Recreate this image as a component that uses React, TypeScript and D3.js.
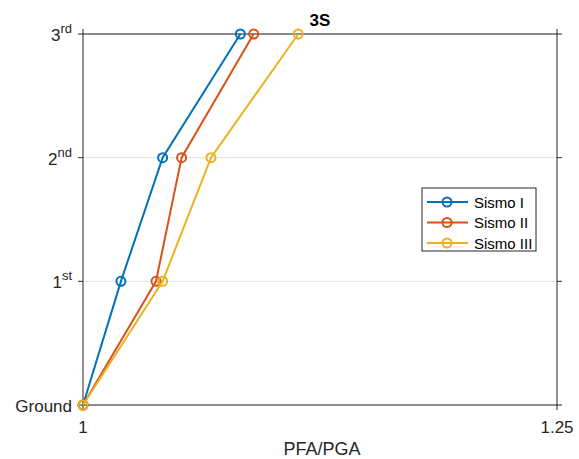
import React from "react";
import * as d3 from "d3";

// Storey levels (y) and peak floor acceleration ratios per record
const levels = ["Ground", "1st", "2nd", "3rd"];
const levelBase = ["Ground", "1", "2", "3"];
const levelSup = ["", "st", "nd", "rd"];
const seriesNames = ["Sismo I", "Sismo II", "Sismo III"];
const sismoI = [1.0, 1.02, 1.042, 1.083];
const sismoII = [1.0, 1.0385, 1.052, 1.09];
const sismoIII = [1.0, 1.042, 1.0675, 1.1135];
const xTicks = [1, 1.25];
const colors = ["#0072BD", "#D95319", "#EDB120"];

const W = 579;
const H = 459;
const m = { left: 83, right: 557, top: 34, bottom: 405 };

export default function App() {
  const x = d3.scaleLinear().domain([1, 1.25]).range([m.left, m.right]);
  const y = d3.scaleLinear().domain([0, 3]).range([m.bottom, m.top]);
  const series = [sismoI, sismoII, sismoIII];
  const line = d3
    .line<number>()
    .x((d) => x(d))
    .y((_, i) => y(i));
  const font = "Liberation Sans, Arial, Helvetica, sans-serif";
  const axisColor = "#262626";

  const legX = 422;
  const legY = 188;
  const legW = 114;
  const legH = 63;

  return (
    <svg
      width={W}
      height={H}
      style={{ position: "absolute", left: 0, top: 0, background: "#fff" }}
      fontFamily={font}
    >
      <rect x={0} y={0} width={W} height={H} fill="#fff" />
      {/* horizontal grid */}
      {levels.map((_, i) => (
        <line
          key={"g" + i}
          x1={m.left}
          x2={m.right}
          y1={y(i)}
          y2={y(i)}
          stroke="#dcdcdc"
          strokeWidth={0.8}
        />
      ))}
      {/* axes box */}
      <rect
        x={m.left}
        y={m.top}
        width={m.right - m.left}
        height={m.bottom - m.top}
        fill="none"
        stroke={axisColor}
        strokeWidth={1}
      />
      {/* y ticks and labels */}
      {levels.map((_, i) => (
        <g key={"yt" + i}>
          <line x1={m.left - 5} x2={m.left} y1={y(i)} y2={y(i)} stroke={axisColor} />
          <line x1={m.right} x2={m.right + 5} y1={y(i)} y2={y(i)} stroke={axisColor} />
          <text x={m.left - 11} y={y(i) + 7} textAnchor="end" fontSize={17} fill={axisColor}>
            <tspan>{levelBase[i]}</tspan>
            {levelSup[i] && (
              <tspan fontSize={13} dy={-8}>
                {levelSup[i]}
              </tspan>
            )}
          </text>
        </g>
      ))}
      {/* x ticks and labels */}
      {xTicks.map((t) => (
        <g key={"xt" + t}>
          <line x1={x(t)} x2={x(t)} y1={m.bottom} y2={m.bottom + 5} stroke={axisColor} />
          <line x1={x(t)} x2={x(t)} y1={m.top - 5} y2={m.top} stroke={axisColor} />
          <text x={x(t)} y={m.bottom + 28} textAnchor="middle" fontSize={17} fill={axisColor}>
            {t}
          </text>
        </g>
      ))}
      <text x={(m.left + m.right) / 2 + 2} y={455} textAnchor="middle" fontSize={18} fill={axisColor}>
        PFA/PGA
      </text>
      <text
        x={(m.left + m.right) / 2}
        y={26}
        textAnchor="middle"
        fontSize={17}
        fontWeight="bold"
        fill="#000"
      >
        3S
      </text>
      {/* series */}
      {series.map((s, k) => (
        <g key={"s" + k}>
          <path d={line(s) || ""} fill="none" stroke={colors[k]} strokeWidth={2} />
          {s.map((v, i) => (
            <circle
              key={i}
              cx={x(v)}
              cy={y(i)}
              r={4.5}
              fill="none"
              stroke={colors[k]}
              strokeWidth={2}
            />
          ))}
        </g>
      ))}
      {/* legend */}
      <rect x={legX} y={legY} width={legW} height={legH} fill="#fff" stroke={axisColor} strokeWidth={1} />
      {seriesNames.map((n, k) => {
        const ly = legY + 14 + k * 20.5;
        return (
          <g key={"l" + k}>
            <line x1={legX + 5} x2={legX + 46} y1={ly} y2={ly} stroke={colors[k]} strokeWidth={2} />
            <circle cx={legX + 25} cy={ly} r={4.5} fill="none" stroke={colors[k]} strokeWidth={2} />
            <text x={legX + 52} y={ly + 5.5} fontSize={15} fill="#000">
              {n}
            </text>
          </g>
        );
      })}
    </svg>
  );
}
